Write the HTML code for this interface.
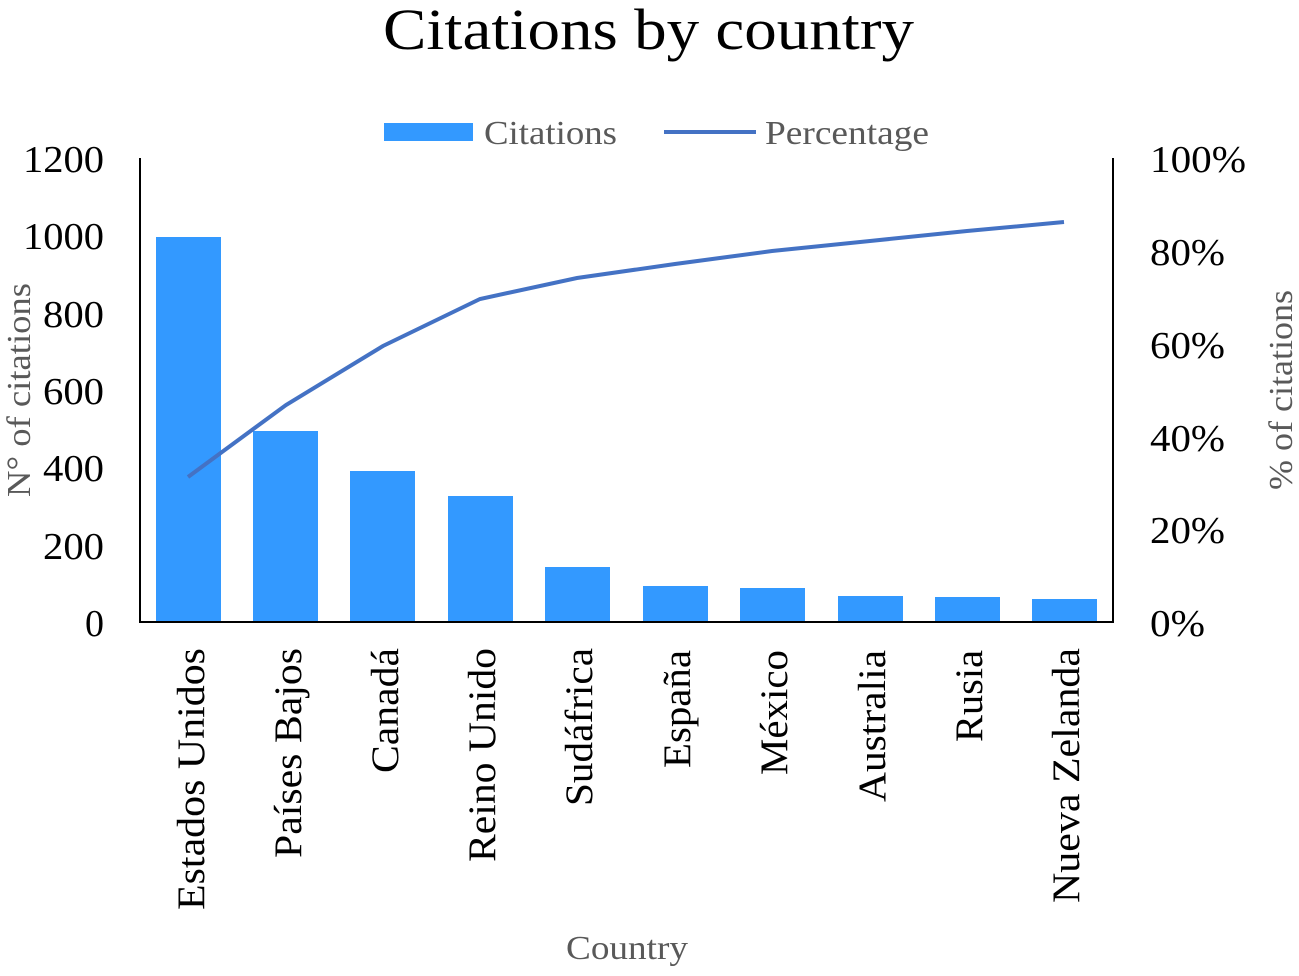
<!DOCTYPE html>
<html><head><meta charset="utf-8"><style>body{margin:0;background:#fff}</style></head><body>
<svg width="1299" height="971" xmlns="http://www.w3.org/2000/svg" font-family="Liberation Serif, serif">
<text x="383" y="49" font-size="58" textLength="531" lengthAdjust="spacingAndGlyphs" fill="#000">Citations by country</text>
<rect x="384" y="123" width="89" height="18" fill="#3399ff"/>
<text x="484" y="144" font-size="34" textLength="133" lengthAdjust="spacingAndGlyphs" fill="#595959">Citations</text>
<line x1="664" y1="132" x2="756" y2="132" stroke="#4472c4" stroke-width="4"/>
<text x="765" y="144" font-size="34" textLength="164" lengthAdjust="spacingAndGlyphs" fill="#595959">Percentage</text>
<g fill="#3399ff">
<rect x="156" y="237" width="65" height="385"/>
<rect x="253" y="431" width="65" height="191"/>
<rect x="350" y="471" width="65" height="151"/>
<rect x="448" y="496" width="65" height="126"/>
<rect x="545" y="567" width="65" height="55"/>
<rect x="643" y="586" width="65" height="36"/>
<rect x="740" y="588" width="65" height="34"/>
<rect x="838" y="596" width="65" height="26"/>
<rect x="935" y="597" width="65" height="25"/>
<rect x="1032" y="599" width="65" height="23"/>
</g>
<g stroke="#000" stroke-width="2">
<line x1="140" y1="158" x2="140" y2="623"/>
<line x1="1113" y1="158" x2="1113" y2="623"/>
<line x1="139" y1="622" x2="1114" y2="622"/>
</g>
<polyline fill="none" stroke="#4472c4" stroke-width="4" points="188,477 286,405 383,346 480,299 577,278 675,264 772,251 870,241 967,231 1064,222"/>
<g font-size="38" fill="#000" text-anchor="end">
<text x="104" y="172" textLength="81" lengthAdjust="spacingAndGlyphs">1200</text><text x="104" y="249" textLength="81" lengthAdjust="spacingAndGlyphs">1000</text><text x="104" y="327" textLength="61" lengthAdjust="spacingAndGlyphs">800</text>
<text x="104" y="404" textLength="61" lengthAdjust="spacingAndGlyphs">600</text><text x="104" y="481" textLength="61" lengthAdjust="spacingAndGlyphs">400</text><text x="104" y="559" textLength="61" lengthAdjust="spacingAndGlyphs">200</text><text x="104" y="636">0</text>
</g>
<g font-size="38" fill="#000">
<text x="1150" y="172" textLength="96" lengthAdjust="spacingAndGlyphs">100%</text><text x="1150" y="265" textLength="75" lengthAdjust="spacingAndGlyphs">80%</text><text x="1150" y="358" textLength="75" lengthAdjust="spacingAndGlyphs">60%</text>
<text x="1150" y="451" textLength="75" lengthAdjust="spacingAndGlyphs">40%</text><text x="1150" y="543" textLength="75" lengthAdjust="spacingAndGlyphs">20%</text><text x="1150" y="636" textLength="55" lengthAdjust="spacingAndGlyphs">0%</text>
</g>
<text transform="translate(30,390) rotate(-90)" font-size="34" fill="#595959" text-anchor="middle" textLength="214" lengthAdjust="spacingAndGlyphs">N° of citations</text>
<text transform="translate(1292,390) rotate(-90)" font-size="34" fill="#595959" text-anchor="middle" textLength="200" lengthAdjust="spacingAndGlyphs">% of citations</text>
<g font-size="39" fill="#000" text-anchor="end">
<text transform="translate(204,648) rotate(-90)" textLength="262" lengthAdjust="spacingAndGlyphs">Estados Unidos</text>
<text transform="translate(301,648) rotate(-90)" textLength="210" lengthAdjust="spacingAndGlyphs">Países Bajos</text>
<text transform="translate(398,648) rotate(-90)" textLength="125" lengthAdjust="spacingAndGlyphs">Canadá</text>
<text transform="translate(495,648) rotate(-90)" textLength="214" lengthAdjust="spacingAndGlyphs">Reino Unido</text>
<text transform="translate(592,648) rotate(-90)" textLength="158" lengthAdjust="spacingAndGlyphs">Sudáfrica</text>
<text transform="translate(690,650) rotate(-90)" textLength="118" lengthAdjust="spacingAndGlyphs">España</text>
<text transform="translate(787,650) rotate(-90)" textLength="125" lengthAdjust="spacingAndGlyphs">México</text>
<text transform="translate(885,650) rotate(-90)" textLength="152" lengthAdjust="spacingAndGlyphs">Australia</text>
<text transform="translate(982,650) rotate(-90)" textLength="92" lengthAdjust="spacingAndGlyphs">Rusia</text>
<text transform="translate(1079,648) rotate(-90)" textLength="255" lengthAdjust="spacingAndGlyphs">Nueva Zelanda</text>
</g>
<text x="627" y="959" font-size="34" fill="#595959" text-anchor="middle" textLength="122" lengthAdjust="spacingAndGlyphs">Country</text>
</svg>
</body></html>
